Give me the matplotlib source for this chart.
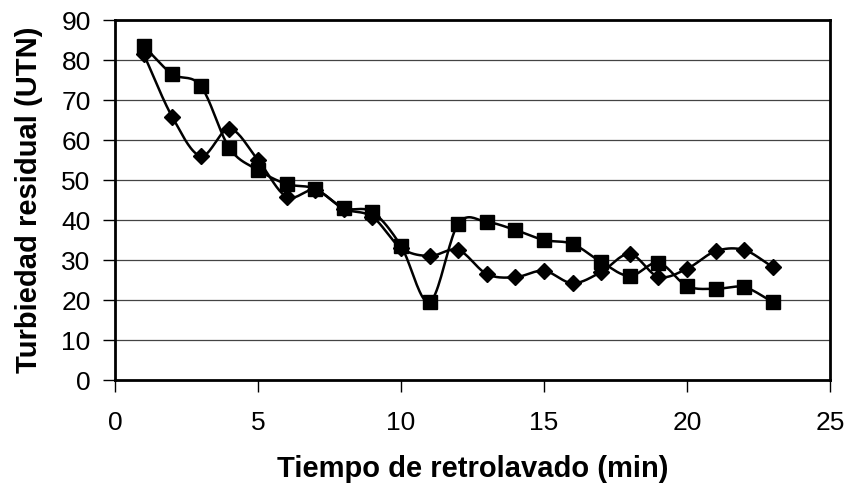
import numpy as np
import matplotlib
matplotlib.use("Agg")
import matplotlib.pyplot as plt

plt.rcParams['font.family'] = ['Liberation Sans', 'DejaVu Sans']

tiempo = list(range(1, 24))
serie_cuadro = [83.5, 76.5, 73.5, 58.0, 52.5, 49.0, 47.8, 43.0, 42.0, 33.5, 19.5, 39.0,
                39.5, 37.5, 35.0, 34.0, 29.5, 26.0, 29.3, 23.5, 22.8, 23.2, 19.5]
serie_rombo = [81.5, 65.8, 56.0, 62.8, 55.0, 45.8, 47.5, 42.8, 40.8, 33.0, 31.0, 32.5,
               26.5, 25.7, 27.3, 24.2, 27.0, 31.5, 25.8, 27.8, 32.2, 32.5, 28.2]
xticks = [0, 5, 10, 15, 20, 25]
yticks = list(range(0, 100, 10))


def smooth(x, y, n=20):
    # Catmull-Rom curve through the points, like Excel's smoothed line
    x = np.asarray(x, float)
    y = np.asarray(y, float)
    px = np.concatenate([[2 * x[0] - x[1]], x, [2 * x[-1] - x[-2]]])
    py = np.concatenate([[2 * y[0] - y[1]], y, [2 * y[-1] - y[-2]]])
    xs, ys = [], []
    t = np.linspace(0, 1, n, endpoint=False)
    for i in range(1, len(px) - 2):
        for p, out in ((px, xs), (py, ys)):
            p0, p1, p2, p3 = p[i - 1], p[i], p[i + 1], p[i + 2]
            out.extend(0.5 * (2 * p1 + (-p0 + p2) * t
                              + (2 * p0 - 5 * p1 + 4 * p2 - p3) * t ** 2
                              + (-p0 + 3 * p1 - 3 * p2 + p3) * t ** 3))
    xs.append(x[-1])
    ys.append(y[-1])
    return np.array(xs), np.array(ys)


fig = plt.figure(figsize=(8.48, 4.92), dpi=100)
ax = fig.add_axes([115 / 848, 1 - 380 / 492, 715 / 848, 360 / 492])

for yv in yticks[1:-1]:
    ax.axhline(yv, color='#444444', lw=0.9, zorder=1)

for vals, mk, ms in ((serie_rombo, 'D', 8.5), (serie_cuadro, 's', 9.5)):
    sx, sy = smooth(tiempo, vals)
    ax.plot(sx, sy, color='black', lw=1.8, zorder=2)
    ax.plot(tiempo, vals, ls='none', marker=mk, ms=ms, color='black', zorder=3)

ax.set_xlim(0, 25)
ax.set_ylim(0, 90)
ax.set_xticks(xticks)
ax.set_yticks(yticks)
ax.tick_params(direction='out', length=8.5, width=1, labelsize=19)
ax.tick_params(axis='y', pad=9)
ax.tick_params(axis='x', pad=14)
for s in ax.spines.values():
    s.set_linewidth(2)
    s.set_color('black')

ax.set_xlabel('Tiempo de retrolavado (min)', fontsize=21, fontweight='bold', labelpad=14)
ax.set_ylabel('Turbiedad residual (UTN)', fontsize=21, fontweight='bold', labelpad=13)

fig.savefig('out.png', dpi=100)
